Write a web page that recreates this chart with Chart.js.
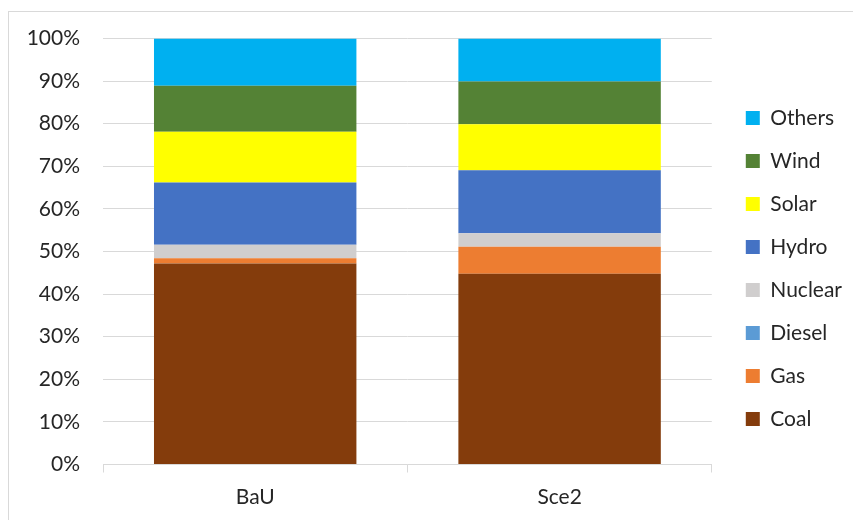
<!DOCTYPE html>
<html>
<head>
<meta charset="utf-8">
<script src="https://cdn.jsdelivr.net/npm/chart.js@4/dist/chart.umd.min.js"></script>
<style>
  html, body { margin: 0; padding: 0; background: #fff; }
  .frame {
    position: absolute; left: 8px; top: 11px;
    width: 845px; height: 509px;
    border-left: 1px solid #d9d9d9; border-top: 1px solid #d9d9d9;
    box-sizing: border-box;
  }
  .frame canvas { display: block; }
</style>
</head>
<body>
<div class="frame"><canvas id="mixChart" width="844" height="508"></canvas></div>
<script>
// Generation mix share (%) per scenario, stacked bottom to top
const scenarios = ['BaU', 'Sce2'];
const coal    = [47.2, 44.8];
const gas     = [1.2, 6.3];
const diesel  = [0, 0];
const nuclear = [3.2, 3.2];
const hydro   = [14.6, 14.8];
const solar   = [11.9, 10.8];
const wind    = [10.8, 10.0];
const others  = [11.1, 10.1];

const series = [
    { label: 'Coal',    data: coal,    color: '#843c0c' },
    { label: 'Gas',     data: gas,     color: '#ed7d31' },
    { label: 'Diesel',  data: diesel,  color: '#5b9bd5' },
    { label: 'Nuclear', data: nuclear, color: '#d0cece' },
    { label: 'Hydro',   data: hydro,   color: '#4472c4' },
    { label: 'Solar',   data: solar,   color: '#ffff00' },
    { label: 'Wind',    data: wind,    color: '#548235' },
    { label: 'Others',  data: others,  color: '#00b0f0' }
];

const font = { family: 'Lato, "Open Sans", sans-serif', size: 21 };
const grey = '#d9d9d9';
const ink = '#262626';

new Chart(document.getElementById('mixChart'), {
    type: 'bar',
    data: {
        labels: scenarios,
        datasets: series.map(s => ({
            label: s.label,
            data: s.data,
            backgroundColor: s.color,
            borderWidth: 0,
            categoryPercentage: 1,
            barPercentage: 0.665
        }))
    },
    options: {
        responsive: false,
        animation: false,
        layout: { padding: { top: 5, bottom: 0, left: 0, right: 1 } },
        plugins: {
            tooltip: { enabled: false },
            legend: {
                position: 'right',
                reverse: true,
                labels: { font: font, color: ink, boxWidth: 14, boxHeight: 14, padding: 22 }
            }
        },
        scales: {
            x: {
                stacked: true,
                grid: { offset: true, drawOnChartArea: false, drawTicks: true, tickLength: 8, color: grey },
                border: { display: true, color: grey },
                ticks: { font: font, color: ink, padding: 12 },
                afterFit: s => { s.height = 55.5; }
            },
            y: {
                stacked: true,
                min: 0,
                max: 100,
                // hidden tick marks push the labels away from the plot
                grid: { drawTicks: true, tickLength: 9.1, tickColor: 'rgba(0,0,0,0)', color: grey },
                border: { display: false },
                ticks: { stepSize: 10, font: font, color: ink, padding: 13.9, callback: v => v + '%' },
                afterFit: s => { s.width = 94; }
            },
            gap: {
                position: 'right',
                grid: { display: false },
                border: { display: false },
                ticks: { display: false },
                afterFit: s => { s.width = 12; }
            }
        }
    }
});
</script>
</body>
</html>
